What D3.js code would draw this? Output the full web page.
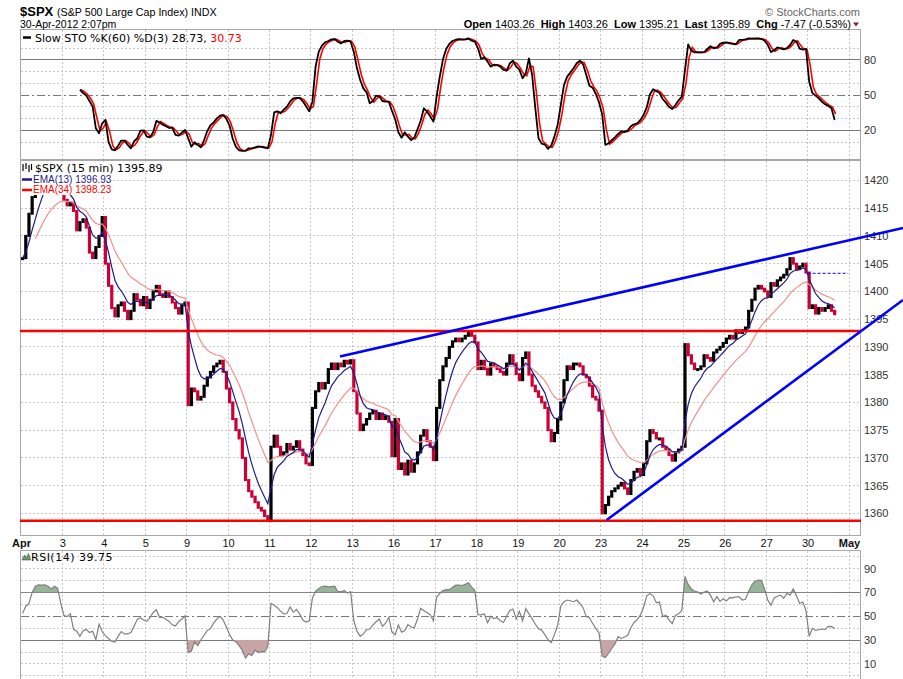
<!DOCTYPE html>
<html>
<head>
<meta charset="utf-8">
<script src="https://cdn.jsdelivr.net/npm/d3@7"></script>
<style>
body { margin: 0; background: #fff; }
svg text { font-family: "Liberation Sans", Arial, sans-serif; }
</style>
</head>
<body>
<div id="chart"></div>
<script>
// trading days shown on the x axis (last one is the right edge)
var dayLabels = ["Apr", "3", "4", "5", "9", "10", "11", "12", "13", "16", "17", "18", "19", "20", "23", "24", "25", "26", "27", "30", "May"];

// 30 minute closes, one row per trading day
var closesByDay = [
    [1406, 1410, 1414, 1417, 1418.5, 1420.5, 1421.5, 1422, 1421.5, 1421, 1420.5, 1420, 1419],
    [1416.5, 1415.5, 1416, 1414.5, 1411, 1412.5, 1413, 1411.5, 1407, 1406, 1408, 1410, 1413.4],
    [1405, 1401, 1397, 1395.5, 1397.5, 1398, 1396.5, 1395, 1396.5, 1399.5, 1398.5, 1397.5, 1399],
    [1397, 1398.5, 1400, 1401, 1399.5, 1399, 1400, 1399, 1398, 1397, 1396, 1397.5, 1398],
    [1379.5, 1382.5, 1382, 1380.5, 1381, 1383, 1384.5, 1385.5, 1386.5, 1387, 1387.5, 1385.5, 1382.5],
    [1380, 1377, 1375, 1373.5, 1370, 1366, 1364, 1363, 1362, 1361, 1360.5, 1359.5, 1358.6],
    [1372, 1374, 1372, 1370.5, 1371, 1372.5, 1371.5, 1372, 1373, 1371.5, 1370.5, 1369, 1368.7],
    [1379, 1382, 1383.5, 1382.5, 1383.5, 1386, 1387, 1386, 1387, 1386.5, 1387.5, 1387, 1387.6],
    [1382, 1378, 1375, 1376, 1377, 1378, 1378.5, 1377, 1378, 1377, 1377.5, 1376.5, 1370.3],
    [1377, 1368, 1369, 1367, 1369.5, 1367.5, 1369, 1371, 1374, 1375, 1373, 1372, 1369.6],
    [1379, 1384, 1386.5, 1388, 1390, 1391, 1391.5, 1391, 1391.5, 1392, 1392.5, 1392, 1390.8],
    [1386, 1387.5, 1386, 1385, 1387, 1386.5, 1386, 1385.5, 1385, 1387, 1388.5, 1387, 1385.1],
    [1384, 1388, 1389, 1385, 1383, 1382, 1381, 1380, 1379, 1375, 1373, 1374.5, 1376.9],
    [1380, 1384, 1386.5, 1386, 1387, 1387, 1386.5, 1385, 1384.5, 1383, 1381, 1380.5, 1378.5],
    [1360, 1361.5, 1363, 1364, 1364.5, 1365, 1365.5, 1364.5, 1363.5, 1366, 1367.5, 1368, 1366.9],
    [1369, 1373, 1375, 1374.5, 1373.5, 1373.5, 1372, 1371.5, 1370.5, 1369.5, 1371, 1371.5, 1372],
    [1390.5, 1388.5, 1387, 1386, 1386, 1386.5, 1388.5, 1388, 1387.5, 1389, 1389.5, 1390, 1390.7],
    [1391.5, 1392, 1391.5, 1393, 1392.5, 1393, 1393.5, 1396.5, 1398.5, 1400.5, 1401, 1400.5, 1400],
    [1399, 1401.5, 1401, 1402, 1402.5, 1403, 1404, 1406, 1405, 1404, 1404.5, 1405, 1403.4],
    [1397, 1397.5, 1396, 1397, 1396.5, 1397, 1397.5, 1396.5, 1395.89]
];

// slow stochastic %K(60), starts at bar 18
var stoStart = 18;
var stoK = [
    54.7, 51.8, 49.6, 45, 40.2, 21.7, 17.4, 26, 28.8, 9.8, 3.8, 2.9,
    6.9, 11.2, 11.2, 7.5, 4.6, 10.6, 13.2, 19.7, 20, 14.6, 14, 18.3,
    28, 26.8, 24.8, 23.4, 22, 22.3, 16, 15.4, 18, 20.3, 13.2, 6,
    9.8, 7.5, 5.5, 11.7, 19.4, 24.3, 26.8, 30.2, 32.5, 33.1, 29.7, 24,
    12.6, 5.8, 2.9, 2.4, 2.6, 4.6, 4.6, 5.5, 6.3, 5.8, 5.2, 4.6,
    16, 35.3, 36.2, 34.5, 37.6, 40.2, 44.4, 47.3, 47.6, 47.6, 44.7, 40.5,
    36.2, 44.4, 74.3, 87.1, 92.2, 95.1, 96.2, 97.6, 97.9, 95.6, 94.2, 96.2,
    96.5, 95.6, 87.1, 72.9, 62.9, 55.8, 52.4, 43, 45, 49.6, 49, 45,
    44.4, 44.4, 36.5, 29.4, 18.3, 13.7, 18.3, 14.6, 11.7, 13.7, 20.8, 28.2,
    38.8, 35.9, 31.9, 27.4, 48.7, 65.8, 80.6, 89.4, 93.7, 96.2, 97.3, 97.9,
    97.3, 97.6, 98.5, 96.5, 95.6, 90, 80.9, 82.3, 78.6, 74.3, 76, 75.7,
    74.3, 71.5, 70.9, 77.2, 79.4, 74.3, 71.8, 64.4, 68.6, 81.4, 67.2, 38.8,
    13.2, 8.6, 7.8, 4.1, 6.9, 14.6, 24.5, 41.6, 58.7, 65.8, 69.2, 72.9,
    77.2, 79.4, 76.3, 67.2, 58.1, 56.4, 51, 43.9, 33.6, 7.5, 8.9, 11.5,
    14, 16.9, 19.1, 18.6, 19.7, 23.4, 25.1, 26, 28.8, 33.1, 39.6, 50.7,
    55, 53.5, 51.8, 46.7, 43.6, 39.9, 38.2, 41.6, 45.6, 48.7, 71.5, 93.4,
    88, 86.5, 86.5, 86.5, 86.8, 89.4, 91.7, 90, 90.5, 93.7, 94.8, 95.1,
    94.2, 93.7, 93.4, 97.1, 97.1, 97.6, 98.5, 98.2, 98.2, 98.5, 97.9, 96.5,
    92.8, 86.8, 88.2, 90.8, 90, 89.1, 90.2, 92.8, 97.1, 95.6, 89.7, 88.8,
    89.4, 61.5, 51.8, 49.6, 47.3, 44.4, 42.2, 40.8, 38.8, 28.73
];

// RSI(14), one value per bar
var rsiValues = [
    52.6, 58.4, 60.7, 70, 75.2, 76.4, 76.1, 76.4, 75.2, 72.9, 75.2, 73.5, 60.7,
    50.6, 49.7, 52, 39, 37.5, 33.2, 37.8, 39, 36.4, 37.5, 30.3, 43.3, 37,
    33.8, 31.4, 28.8, 28.3, 33.2, 37.2, 35.2, 35.2, 36.4, 41.6, 47.4, 48.8, 46.8,
    45.7, 48.8, 53.2, 55.5, 49.1, 49.1, 47.4, 45.7, 42.8, 41.9, 45.4, 47.7, 50.3,
    19.6, 20.7, 28.5, 25.4, 30.3, 34.1, 38.1, 39.6, 44.2, 47.7, 50, 46.8, 41,
    34.6, 30, 28.5, 25.4, 21.3, 14.9, 18.4, 17.2, 21.6, 19.6, 20.4, 20.1, 24.8,
    60.7, 59.3, 57.2, 54.3, 52, 52.3, 57.8, 53.5, 55.8, 52, 46.8, 45.1, 46.2,
    65.1, 70.9, 73.2, 74.9, 75.2, 74.6, 74.9, 75.2, 70.6, 70.6, 71.7, 69.4, 70.6,
    46.2, 37.5, 33.2, 35.2, 38.7, 39.3, 42.5, 45.4, 47.7, 41.6, 44.2, 49.1, 36.7,
    34.6, 42.8, 36.7, 38.1, 43, 41, 40.4, 47.7, 56.7, 54.6, 53.2, 51.2, 46.2,
    65.9, 69.1, 71.5, 72.3, 72.3, 74.4, 76.1, 76.1, 75.8, 76.7, 78.1, 74.4, 71.7,
    51.4, 51.2, 52, 44.5, 50, 48, 48.8, 46.2, 44.8, 50, 54.9, 56.1, 47.7,
    54.1, 46.2, 56.4, 52, 48, 43.3, 39.6, 38.4, 34.6, 30.3, 28, 34.6, 42.2,
    58.4, 62.2, 63.6, 63, 62.2, 63.6, 60.7, 57.2, 49.7, 48.8, 43.9, 39.9, 36.1,
    16.7, 15.5, 19, 23, 26.8, 32.9, 31.4, 32.6, 34.1, 40.4, 44.8, 47.4, 50.9,
    57.8, 67.1, 68.8, 67.1, 61.3, 61.9, 49.7, 50.9, 46.8, 43.9, 50.6, 52, 54.9,
    83.3, 76.7, 72.9, 71.2, 70.3, 68.6, 70.3, 71.2, 67.7, 62.2, 66.5, 62.5, 64.8,
    62.8, 65.7, 65.4, 66.2, 66.2, 63.6, 64.2, 70.9, 76.4, 79.3, 80.4, 80.1, 72.6,
    63.6, 59.3, 65.4, 66.8, 67.7, 65.1, 69.1, 67.7, 72.9, 67.1, 60.7, 61.9, 54.9,
    33.2, 39.9, 38.1, 38.7, 39.3, 39, 41.6, 41.3, 39.75
];

// hand drawn annotations: [day, price] pairs
var levelLines = [1392.86, 1358.68];
var trendLines = [
    [[7.705, 1388.27], [21.304, 1411.43]],
    [[14.147, 1358.8], [21.304, 1398.45]]
];
var openPrice = 1403.26;
var priceTicks = d3.range(1360, 1421, 5);

var svgWidth = 903;
var svgHeight = 679;
var plotLeft = 21;
var plotRight = 860;
var barsPerDay = 13;

var stoPanel = {top: 30, bottom: 159};
var pricePanel = {top: 161, bottom: 535};
var rsiPanel = {top: 551, bottom: 682};

var svg = d3.select("#chart")
    .append("svg")
    .attr("width", svgWidth)
    .attr("height", svgHeight);

svg.append("rect").attr("width", svgWidth).attr("height", svgHeight).attr("fill", "#fff");

var closes = closesByDay.flat();

var xScale = d3.scaleLinear().domain([0, 20]).range([21, 849]);
function barX(i) { return xScale((i + 0.5) / barsPerDay); }

var yPrice = d3.scaleLinear().domain([1356.1, 1423.5]).range([pricePanel.bottom, pricePanel.top]);
var ySto = d3.scaleLinear().domain([-4.5, 105.6]).range([stoPanel.bottom, stoPanel.top]);
var yRsi = d3.scaleLinear().domain([-5.1, 104.7]).range([rsiPanel.bottom, rsiPanel.top]);

function ema(values, alpha) {
    var out = [];
    values.forEach(function(v, i) {
        out.push(i === 0 ? v : out[i - 1] + alpha * (v - out[i - 1]));
    });
    return out;
}

// panel frame, grid and right axis
function drawPanel(name, panel, yScale, dotted, solid, dashDot, labels) {
    var g = svg.append("g").attr("class", name);
    var defs = svg.append("defs");
    defs.append("clipPath").attr("id", "clip-" + name)
        .append("rect")
        .attr("x", plotLeft).attr("y", panel.top)
        .attr("width", plotRight - plotLeft).attr("height", panel.bottom - panel.top);

    g.selectAll("line.vgrid")
        .data(d3.range(1, 21))
        .enter()
        .append("line")
        .attr("x1", d => xScale(d)).attr("x2", d => xScale(d))
        .attr("y1", panel.top).attr("y2", panel.bottom)
        .attr("stroke", "#c8c8c8")
        .attr("stroke-dasharray", "2,2")
        .attr("shape-rendering", "crispEdges");

    g.selectAll("line.hgrid")
        .data(dotted)
        .enter()
        .append("line")
        .attr("x1", plotLeft).attr("x2", plotRight)
        .attr("y1", d => yScale(d)).attr("y2", d => yScale(d))
        .attr("stroke", "#c8c8c8")
        .attr("stroke-dasharray", "2,2")
        .attr("shape-rendering", "crispEdges");

    g.selectAll("line.solid")
        .data(solid)
        .enter()
        .append("line")
        .attr("x1", plotLeft).attr("x2", plotRight)
        .attr("y1", d => yScale(d)).attr("y2", d => yScale(d))
        .attr("stroke", "#7a7a7a")
        .attr("shape-rendering", "crispEdges");

    g.selectAll("line.dashdot")
        .data(dashDot)
        .enter()
        .append("line")
        .attr("x1", plotLeft).attr("x2", plotRight)
        .attr("y1", d => yScale(d)).attr("y2", d => yScale(d))
        .attr("stroke", "#7a7a7a")
        .attr("stroke-dasharray", "8,3,2,3")
        .attr("shape-rendering", "crispEdges");

    g.append("rect")
        .attr("x", plotLeft - 0.5).attr("y", panel.top - 0.5)
        .attr("width", plotRight - plotLeft + 1).attr("height", panel.bottom - panel.top + 1)
        .attr("fill", "none")
        .attr("stroke", "#a8a8a8");

    var axis = d3.axisRight(yScale).tickValues(labels).tickFormat(d3.format("d")).tickSize(0).tickPadding(0);
    var ax = g.append("g")
        .attr("transform", `translate(${plotRight + 4}, 0)`)
        .call(axis);
    ax.select(".domain").remove();
    ax.selectAll("text")
        .style("font-family", "Liberation Sans, Arial, sans-serif")
        .style("font-size", "11px")
        .attr("fill", "#333");
    return g;
}

drawPanel("sto", stoPanel, ySto, [10, 30, 40, 60, 70, 90], [20, 80], [50], [20, 50, 80]);
drawPanel("price", pricePanel, yPrice, priceTicks, [], [], priceTicks);
drawPanel("rsi", rsiPanel, yRsi, [0, 10, 20, 40, 60, 80, 90, 100], [30, 70], [50], [10, 30, 50, 70, 90]);

// ---- stochastic ----
var stoD = stoK.map(function(v, i) { return i === 0 ? v : (v + stoK[i - 1]) / 2; });
var stoLine = d3.line()
    .x((d, i) => barX(i + stoStart))
    .y(d => ySto(d));
var stoG = svg.append("g").attr("clip-path", "url(#clip-sto)");
stoG.append("path").datum(stoD)
    .attr("d", stoLine)
    .attr("fill", "none").attr("stroke", "#ff0000").attr("stroke-width", 1.6)
    .attr("transform", "translate(1,0)");
stoG.append("path").datum(stoK)
    .attr("d", stoLine)
    .attr("fill", "none").attr("stroke", "#000").attr("stroke-width", 1.8)
    .attr("stroke-linejoin", "round");

// ---- price bars and EMAs ----
var priceG = svg.append("g").attr("clip-path", "url(#clip-price)");
function prevClose(i) { return i === 0 ? closes[0] : closes[i - 1]; }

priceG.selectAll("rect.bar")
    .data(closes)
    .enter()
    .append("rect")
    .attr("x", (d, i) => barX(i) - 1.6)
    .attr("width", 3.2)
    .attr("y", (d, i) => yPrice(Math.max(d, prevClose(i))) - 1)
    .attr("height", (d, i) => Math.max(3, Math.abs(yPrice(d) - yPrice(prevClose(i))) + 2))
    .attr("fill", (d, i) => d >= prevClose(i) ? "#000" : "#cc0033");

var ema13 = ema(closes, 0.265);
var ema34 = ema(closes, 0.111);
var priceLine = d3.line().x(d => barX(d[0])).y(d => yPrice(d[1]));

priceG.append("path")
    .datum(ema34.map((v, i) => [i, v]).slice(4))
    .attr("d", priceLine)
    .attr("fill", "none").attr("stroke", "#f4908c").attr("stroke-width", 1.2);
priceG.append("path")
    .datum(ema13.map((v, i) => [i, v]))
    .attr("d", priceLine)
    .attr("fill", "none").attr("stroke", "#1c1c8c").attr("stroke-width", 1.2);

// open price marker on the last day
svg.append("line")
    .attr("x1", xScale(19)).attr("x2", xScale(19.98))
    .attr("y1", yPrice(openPrice)).attr("y2", yPrice(openPrice))
    .attr("stroke", "#0000ff").attr("stroke-dasharray", "3,2");

// support / resistance levels
svg.selectAll("line.level")
    .data(levelLines)
    .enter()
    .append("line")
    .attr("x1", plotLeft - 1).attr("x2", plotRight + 1)
    .attr("y1", d => yPrice(d)).attr("y2", d => yPrice(d))
    .attr("stroke", "#ff0000").attr("stroke-width", 2.5);

svg.selectAll("path.trend")
    .data(trendLines)
    .enter()
    .append("path")
    .attr("d", d3.line().x(d => xScale(d[0])).y(d => yPrice(d[1])))
    .attr("stroke", "#0000ff").attr("stroke-width", 2.6).attr("fill", "none");

// ---- RSI ----
var rsiG = svg.append("g").attr("clip-path", "url(#clip-rsi)");
var defs = svg.append("defs");
defs.append("clipPath").attr("id", "clip-over")
    .append("rect").attr("x", plotLeft).attr("y", rsiPanel.top)
    .attr("width", plotRight - plotLeft).attr("height", yRsi(70) - rsiPanel.top);
defs.append("clipPath").attr("id", "clip-under")
    .append("rect").attr("x", plotLeft).attr("y", yRsi(30))
    .attr("width", plotRight - plotLeft).attr("height", rsiPanel.bottom - yRsi(30));

rsiG.append("path").datum(rsiValues)
    .attr("clip-path", "url(#clip-over)")
    .attr("d", d3.area().x((d, i) => barX(i)).y0(yRsi(70)).y1(d => yRsi(d)))
    .attr("fill", "#98b498");
rsiG.append("path").datum(rsiValues)
    .attr("clip-path", "url(#clip-under)")
    .attr("d", d3.area().x((d, i) => barX(i)).y0(yRsi(30)).y1(d => yRsi(d)))
    .attr("fill", "#c9a4a4");
rsiG.append("path").datum(rsiValues)
    .attr("d", d3.line().x((d, i) => barX(i)).y(d => yRsi(d)))
    .attr("fill", "none").attr("stroke", "#808080").attr("stroke-width", 1.2);

// ---- date labels ----
var xAxis = d3.axisBottom(xScale)
    .tickValues(d3.range(0, 21))
    .tickFormat(i => dayLabels[i])
    .tickSize(0)
    .tickPadding(0);
var xAx = svg.append("g")
    .attr("transform", `translate(0, ${pricePanel.bottom + 4})`)
    .call(xAxis);
xAx.select(".domain").remove();
xAx.selectAll("text")
    .style("font-family", "Liberation Sans, Arial, sans-serif")
    .style("font-size", "11px")
    .style("font-weight", (d, i) => (i === 0 || i === 20) ? "bold" : "normal")
    .attr("fill", "#111");

// ---- legends ----
var legendFont = "DejaVu Sans, Verdana, sans-serif";

svg.append("line").attr("x1", 23).attr("x2", 31).attr("y1", 37.5).attr("y2", 37.5)
    .attr("stroke", "#000").attr("stroke-width", 2.5);
var stoText = svg.append("text").attr("x", 35).attr("y", 41.5)
    .style("font-family", legendFont).style("font-size", "11px")
    .text("Slow STO %K(60) %D(3) 28.73, ");
stoText.append("tspan").attr("fill", "#ff0000").text("30.73");

svg.append("rect").attr("x", 22).attr("y", 162).attr("width", 88).attr("height", 33).attr("fill", "#fff");
svg.append("rect").attr("x", 22).attr("y", 162).attr("width", 146).attr("height", 11).attr("fill", "#fff");

var icon = svg.append("g").attr("stroke", "#000").attr("stroke-width", 1.2);
[[23, 164, 171], [26, 163, 169], [29, 165, 172], [31.5, 164, 170]].forEach(function(t) {
    icon.append("line").attr("x1", t[0]).attr("x2", t[0]).attr("y1", t[1]).attr("y2", t[2]);
});
svg.append("text").attr("x", 35).attr("y", 171.5)
    .style("font-family", legendFont).style("font-size", "11px")
    .text("$SPX (15 min) 1395.89");

svg.append("line").attr("x1", 22).attr("x2", 32).attr("y1", 179.5).attr("y2", 179.5)
    .attr("stroke", "#1c1c8c").attr("stroke-width", 2.5);
svg.append("text").attr("x", 33).attr("y", 182.8)
    .style("font-size", "10px").attr("fill", "#1c1c8c")
    .text("EMA(13) 1396.93");
svg.append("line").attr("x1", 22).attr("x2", 32).attr("y1", 190).attr("y2", 190)
    .attr("stroke", "#ff0000").attr("stroke-width", 2.5);
svg.append("text").attr("x", 33).attr("y", 193.3)
    .style("font-size", "10px").attr("fill", "#ff0000")
    .text("EMA(34) 1398.23");

svg.append("path")
    .attr("d", "M22,560 L24.5,555 L26.5,558 L28.5,553.5 L30.5,560 Z")
    .attr("fill", "#6f9a6f").attr("stroke", "#335533").attr("stroke-width", 0.6);
svg.append("text").attr("x", 31).attr("y", 561)
    .style("font-family", legendFont).style("font-size", "11px")
    .style("letter-spacing", "0.5px")
    .text("RSI(14) 39.75");

// ---- header ----
svg.append("text").attr("x", 20).attr("y", 16)
    .style("font-size", "13px").style("font-weight", "bold")
    .text("$SPX");
svg.append("text").attr("x", 57).attr("y", 16)
    .style("font-size", "10.7px")
    .text("(S&P 500 Large Cap Index) INDX");
svg.append("text").attr("x", 20).attr("y", 27.5)
    .style("font-size", "10.5px")
    .text("30-Apr-2012 2:07pm");

svg.append("text").attr("x", 860).attr("y", 15.5)
    .attr("text-anchor", "end")
    .style("font-size", "11px").attr("fill", "#666")
    .text("© StockCharts.com");

var quoteParts = [["Open", "1403.26"], ["High", "1403.26"], ["Low", "1395.21"], ["Last", "1395.89"], ["Chg", "-7.47 (-0.53%)"]];
var quote = svg.append("text").attr("x", 851).attr("y", 27.5)
    .attr("text-anchor", "end")
    .style("font-size", "11px");
quoteParts.forEach(function(p, i) {
    quote.append("tspan").attr("dx", i === 0 ? 0 : 6).style("font-weight", "bold").text(p[0]);
    quote.append("tspan").text(" " + p[1]);
});
svg.append("path").attr("d", "M853,22.5 L859,22.5 L856,26.5 Z").attr("fill", "#8b1c2c");
</script>
</body>
</html>
